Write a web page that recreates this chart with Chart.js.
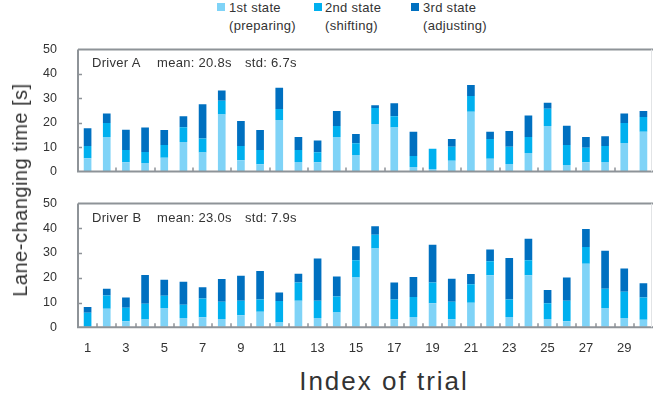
<!DOCTYPE html>
<html>
<head>
<meta charset="utf-8">
<script src="https://cdn.jsdelivr.net/npm/chart.js@4.4.0/dist/chart.umd.min.js"></script>
<style>
  body { margin: 0; width: 653px; height: 399px; background: #fff; position: relative; overflow: hidden;
         font-family: "Liberation Sans", Arial, sans-serif; color: #333; }
  canvas { position: absolute; left: 0; }
  .txt { position: absolute; white-space: pre; line-height: 1; }
  .sw { position: absolute; width: 8px; height: 8px; }
  .leg { position: absolute; font-size: 13px; line-height: 18px; letter-spacing: 0.3px; }
  .note { font-size: 13px; letter-spacing: 0.3px; }
</style>
</head>
<body>

<canvas id="chartA" width="653" height="143" style="top:39px"></canvas>
<canvas id="chartB" width="653" height="171" style="top:193px"></canvas>

<div class="sw" style="left:217px;top:3px;background:#7fd3f7"></div>
<div class="leg" style="left:229px;top:-1px">1st state<br>(preparing)</div>
<div class="sw" style="left:314px;top:3px;background:#00b0ef"></div>
<div class="leg" style="left:325px;top:-1px">2nd state<br>(shifting)</div>
<div class="sw" style="left:411px;top:3px;background:#0070c0"></div>
<div class="leg" style="left:423px;top:-1px">3rd state<br>(adjusting)</div>

<div class="txt note" style="left:92px;top:56px">Driver A</div>
<div class="txt note" style="left:157px;top:56px">mean: 20.8s</div>
<div class="txt note" style="left:245px;top:56px">std: 6.7s</div>
<div class="txt note" style="left:92px;top:211px">Driver B</div>
<div class="txt note" style="left:157px;top:211px">mean: 23.0s</div>
<div class="txt note" style="left:245px;top:211px">std: 7.9s</div>

<div class="txt" style="left:20px;top:190px;font-size:20px;transform:translate(-50%,-50%) rotate(-90deg);letter-spacing:0.5px">Lane-changing time [s]</div>
<div class="txt" style="left:384px;top:381px;font-size:26px;transform:translate(-50%,-50%);letter-spacing:2px">Index of trial</div>

<script>
const trials = Array.from({ length: 30 }, (_, i) => String(i + 1));
const yTicks = [0, 10, 20, 30, 40, 50];

// Driver A: segment lengths in seconds
const prepA  = [5.4, 14.1, 3.8, 3.5, 5.6, 12.1, 7.8, 23.4, 4.6, 3.0, 21.1, 3.9, 3.8, 14.1, 6.8,
                19.5, 18.0, 1.8, 1.0, 4.4, 24.5, 5.2, 3.1, 7.6, 18.6, 2.7, 3.8, 3.9, 11.7, 16.3];
const shiftA = [5.1, 5.8, 5.0, 4.5, 5.3, 6.0, 5.7, 5.6, 5.9, 5.8, 4.5, 4.9, 4.1, 4.5, 4.8,
                6.5, 4.6, 4.6, 8.3, 5.7, 6.4, 8.1, 7.0, 6.5, 7.1, 8.2, 5.9, 6.6, 8.2, 6.0];
const adjA   = [7.2, 3.9, 8.3, 10.0, 6.1, 4.5, 14.1, 4.2, 10.2, 8.2, 8.7, 5.3, 4.8, 6.2, 3.8,
                1.2, 5.4, 9.9, 0, 3.2, 4.5, 3.0, 6.5, 8.9, 2.5, 7.9, 4.4, 3.9, 3.9, 2.5];

// Driver B
const prepB  = [0, 7.5, 2.4, 3.1, 7.8, 3.8, 4.1, 3.4, 4.9, 6.3, 1.9, 10.7, 3.8, 6.0, 20.1,
                31.8, 3.3, 4.2, 9.7, 3.3, 9.9, 21.0, 4.2, 21.0, 3.4, 2.4, 25.7, 7.8, 3.8, 3.0];
const shiftB = [5.9, 5.3, 5.5, 6.4, 4.9, 5.3, 7.5, 6.9, 5.8, 4.9, 8.7, 7.4, 6.9, 6.4, 7.0,
                5.6, 7.9, 8.0, 8.4, 7.0, 7.5, 5.7, 7.0, 6.1, 6.3, 8.3, 6.7, 7.8, 10.6, 9.0];
const adjB   = [2.3, 2.8, 4.1, 11.6, 6.5, 9.3, 4.6, 9.2, 10.1, 11.5, 3.5, 3.5, 17.1, 8.1, 5.6,
                3.4, 6.9, 8.1, 15.2, 9.3, 4.1, 4.7, 16.8, 8.7, 5.4, 9.4, 7.3, 15.3, 9.3, 5.8];

const colors = ['#7fd3f7', '#00b0ef', '#0070c0'];

// frame + inward tick marks
function drawFrame(chart, every) {
  const { ctx, chartArea: a, scales } = chart;
  ctx.save();
  ctx.strokeStyle = '#8e9398';
  ctx.lineWidth = 2;
  ctx.beginPath();
  ctx.moveTo(a.left, a.top); ctx.lineTo(a.right, a.top);
  ctx.moveTo(a.left, a.top); ctx.lineTo(a.left, a.bottom);
  ctx.moveTo(a.left - 1, a.bottom); ctx.lineTo(a.right, a.bottom);
  ctx.stroke();
  ctx.strokeStyle = '#e2e4e6';
  ctx.lineWidth = 1;
  ctx.beginPath();
  ctx.moveTo(a.right - 1.5, a.top); ctx.lineTo(a.right - 1.5, a.bottom);
  ctx.stroke();
  ctx.strokeStyle = '#8e9398';
  ctx.lineWidth = 1.5;
  ctx.beginPath();
  yTicks.slice(1, -1).forEach(v => {
    const y = Math.round(scales.y.getPixelForValue(v)) + 0.5;
    ctx.moveTo(a.left, y); ctx.lineTo(a.left + 4, y);
  });
  const x = scales.x;
  for (let i = 0; i < trials.length - 1; i++) {
    if ((i + 1) % every !== 0) continue;
    const px = Math.round((x.getPixelForValue(i) + x.getPixelForValue(i + 1)) / 2);
    ctx.moveTo(px, a.bottom); ctx.lineTo(px, a.bottom - 4);
  }
  ctx.stroke();
  ctx.restore();
}

function makeChart(id, series, showX, every) {
  const xScale = {
    stacked: true,
    display: showX,
    grid: { display: false, drawTicks: false },
    border: { display: false },
    ticks: {
      autoSkip: false, maxRotation: 0, padding: 13,
      color: '#333', font: { family: 'Liberation Sans', size: 13 },
      callback: (v, i) => (i % 2 === 0 ? trials[i] : '')
    }
  };
  if (showX) xScale.afterFit = s => { s.height = 36.7; s.paddingLeft = 0; s.paddingRight = 0; };
  return new Chart(document.getElementById(id), {
    type: 'bar',
    data: {
      labels: trials,
      datasets: ['1st state (preparing)', '2nd state (shifting)', '3rd state (adjusting)'].map((name, k) => ({
        label: name,
        data: series[k],
        backgroundColor: colors[k],
        borderWidth: 0,
        barPercentage: 0.4,
        categoryPercentage: 1
      }))
    },
    options: {
      responsive: false,
      animation: false,
      layout: { padding: { top: 10, bottom: showX ? 0 : 8, left: 0, right: 0 } },
      plugins: { legend: { display: false }, tooltip: { enabled: false } },
      scales: {
        x: xScale,
        y: {
          stacked: true,
          min: 0, max: 50,
          afterBuildTicks: s => { s.ticks = yTicks.map(v => ({ value: v })); },
          grid: { display: true, drawOnChartArea: false, drawTicks: true, tickLength: 18, color: 'rgba(0,0,0,0)' },
          border: { display: false },
          ticks: { autoSkip: false, padding: 3, color: '#333', font: { family: 'Liberation Sans', size: 12.5 } },
          afterFit: s => { s.width = 78; }
        }
      }
    },
    plugins: [{
      id: 'frame' + id,
      afterDatasetsDraw(chart) { drawFrame(chart, every); }
    }]
  });
}

makeChart('chartA', [prepA, shiftA, adjA], false, 2);
makeChart('chartB', [prepB, shiftB, adjB], true, 1);
</script>
</body>
</html>
